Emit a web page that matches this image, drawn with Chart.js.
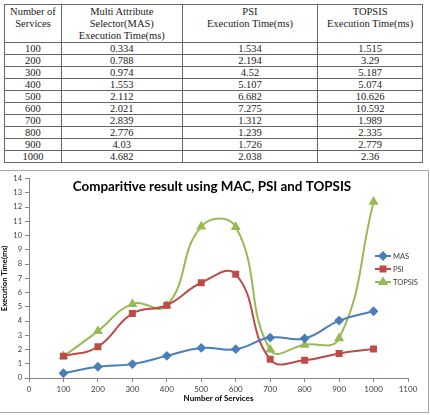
<!DOCTYPE html>
<html>
<head>
<meta charset="utf-8">
<script src="https://cdn.jsdelivr.net/npm/chart.js@4.4.0/dist/chart.umd.min.js"></script>
<style>
body { margin: 0; width: 430px; height: 415px; background: #fff; position: relative; overflow: hidden; }
table { position: absolute; left: 4px; top: 4px; width: 419px; border-collapse: collapse;
        font-family: "Liberation Serif", "Times New Roman", serif; font-size: 10.5px; color: #222; }
th, td { border: 1px solid #666; padding: 0; text-align: center; font-weight: normal; }
th { vertical-align: top; line-height: 12px; height: 36px; padding-top: 1px; }
td { height: 11px; line-height: 11px; }
#box { position: absolute; left: -1px; top: 170px; width: 428px; height: 241px; border: 1px solid #a6a6a6; }
</style>
</head>
<body>
<table id="tbl">
  <colgroup><col style="width:57px"><col style="width:121px"><col style="width:136px"><col style="width:105px"></colgroup>
  <thead>
    <tr>
      <th>Number of<br>Services</th>
      <th>Multi Attribute<br>Selector(MAS)<br>Execution Time(ms)</th>
      <th>PSI<br>Execution Time(ms)</th>
      <th>TOPSIS<br>Execution Time(ms)</th>
    </tr>
  </thead>
  <tbody id="rows"></tbody>
</table>
<div id="box"><canvas id="chart" width="428" height="241"></canvas></div>
<script>
// table values (as printed)
const services = ['100', '200', '300', '400', '500', '600', '700', '800', '900', '1000'];
const masText = ['0.334', '0.788', '0.974', '1.553', '2.112', '2.021', '2.839', '2.776', '4.03', '4.682'];
const psiText = ['1.534', '2.194', '4.52', '5.107', '6.682', '7.275', '1.312', '1.239', '1.726', '2.038'];
const topsisText = ['1.515', '3.29', '5.187', '5.074', '10.626', '10.592', '1.989', '2.335', '2.779', '2.36'];

// chart values (last TOPSIS point is plotted at ~12.36 in the figure)
const xValues = [100, 200, 300, 400, 500, 600, 700, 800, 900, 1000];
const masValues = [0.334, 0.788, 0.974, 1.553, 2.112, 2.021, 2.839, 2.776, 4.03, 4.682];
const psiValues = [1.534, 2.194, 4.52, 5.107, 6.682, 7.275, 1.312, 1.239, 1.726, 2.038];
const topsisValues = [1.515, 3.29, 5.187, 5.074, 10.626, 10.592, 1.989, 2.335, 2.779, 12.36];

const rows = document.getElementById('rows');
services.forEach((s, i) => {
    const tr = document.createElement('tr');
    [s, masText[i], psiText[i], topsisText[i]].forEach(v => {
        const td = document.createElement('td');
        td.textContent = v;
        tr.appendChild(td);
    });
    rows.appendChild(tr);
});

const toPoints = ys => xValues.map((x, i) => ({ x: x, y: ys[i] }));
const AXIS = '#868686';
const TICK = '#404040';
const FONT = 'Lato, "Open Sans", sans-serif';

// title and legend sit inside the plot area, so draw them by hand
const overlay = {
    id: 'overlay',
    afterDraw(chart) {
        const ctx = chart.ctx;
        ctx.save();
        ctx.fillStyle = '#000';
        ctx.font = 'bold 13.4px ' + FONT;
        ctx.textAlign = 'center';
        ctx.textBaseline = 'middle';
        ctx.fillText('Comparitive result using MAC, PSI and TOPSIS', 212, 16);

        ctx.font = '7.5px ' + FONT;
        ctx.textAlign = 'left';
        chart.data.datasets.forEach((ds, i) => {
            const y = 85 + i * 13;
            ctx.strokeStyle = ds.borderColor;
            ctx.lineWidth = 2;
            ctx.beginPath();
            ctx.moveTo(375, y);
            ctx.lineTo(391, y);
            ctx.stroke();
            Chart.helpers.drawPoint(ctx, {
                pointStyle: ds.pointStyle, radius: ds.pointRadius, rotation: 0, borderWidth: 1
            }, 383, y);
            ctx.fillStyle = ds.borderColor;
            ctx.fill();
            ctx.fillStyle = '#404040';
            ctx.fillText(ds.label, 393, y + 0.5);
        });
        ctx.restore();
    }
};

function series(label, ys, color, style, r) {
    return {
        label: label,
        data: toPoints(ys),
        borderColor: color,
        backgroundColor: color,
        pointBackgroundColor: color,
        pointBorderColor: color,
        pointStyle: style,
        pointRadius: r,
        borderWidth: 2,
        tension: 0.45
    };
}

new Chart(document.getElementById('chart'), {
    type: 'line',
    data: {
        datasets: [
            series('MAS', masValues, '#4a7ebb', 'rectRot', 3.5),
            series('PSI', psiValues, '#be4b48', 'rect', 3.5),
            series('TOPSIS', topsisValues, '#98b954', 'triangle', 3.8)
        ]
    },
    plugins: [overlay],
    options: {
        responsive: false,
        animation: false,
        layout: { padding: { left: 0, top: 5.5, right: 20, bottom: 0 } },
        plugins: { legend: { display: false }, tooltip: { enabled: false } },
        scales: {
            x: {
                type: 'linear', min: 0, max: 1100,
                ticks: { stepSize: 100, color: TICK, font: { size: 8, family: FONT }, padding: 3, maxRotation: 0,
                         callback: v => String(v) },
                grid: { drawOnChartArea: false, drawTicks: true, tickLength: 4, color: AXIS },
                border: { color: AXIS },
                title: { display: true, text: 'Number of Services', color: '#000', padding: { top: 0, bottom: 9 },
                         font: { size: 8, weight: 'bold', family: FONT } },
                afterFit: s => { s.height = 34; }
            },
            y: {
                min: 0, max: 14,
                ticks: { stepSize: 1, color: TICK, font: { size: 7.5, family: FONT }, padding: 3 },
                grid: { drawOnChartArea: false, drawTicks: true, tickLength: 4, color: AXIS },
                border: { color: AXIS },
                title: { display: true, text: 'Execution Time(ms)', color: '#000', padding: 0,
                         font: { size: 7.5, weight: 'bold', family: FONT } },
                afterFit: s => { s.width = 29; }
            }
        }
    }
});
</script>
</body>
</html>
